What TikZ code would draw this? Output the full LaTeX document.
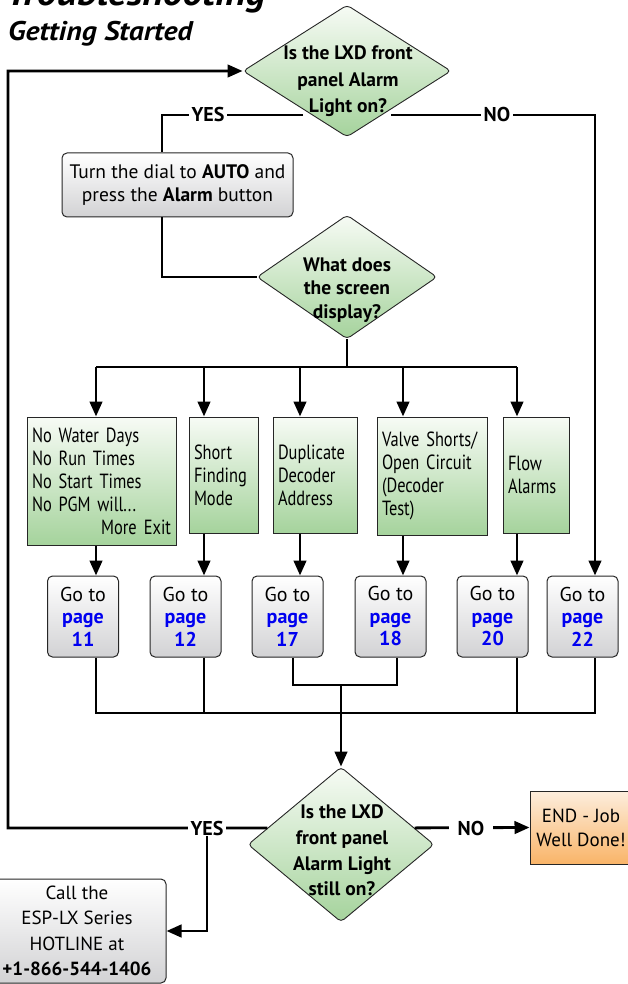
\documentclass[tikz,border=0pt]{standalone}
\usepackage{fontspec}
\setmainfont{PT Sans}
\newfontfamily\condf[FakeStretch=0.8]{PT Sans}
\newfontfamily\titf[FakeStretch=1.1]{PT Sans}
\protected\def\gfont{\condf\fontsize{20.5}{23}\selectfont\spaceskip=3.6pt plus 1pt minus 0.5pt\relax}
\usetikzlibrary{shapes.geometric,arrows.meta,calc}
\definecolor{gtop}{HTML}{F7FBF5}
\definecolor{gbot}{HTML}{A5D39C}
\definecolor{graytop}{HTML}{FFFFFF}
\definecolor{graybot}{HTML}{D2D2D4}
\definecolor{otop}{HTML}{FDEEDD}
\definecolor{obot}{HTML}{F9B468}
\definecolor{pblue}{HTML}{0000F0}
\definecolor{edge}{HTML}{262626}
\begin{document}
\begin{tikzpicture}[x=1pt,y=-1pt,
  conn/.style={line width=2.8pt,black},
  arr/.style={conn,-{Triangle[length=15pt,width=12.5pt]}},
  dia/.style={diamond,draw=edge,line width=0.9pt,rounded corners=4pt,top color=gtop,bottom color=gbot,inner sep=0pt},
  diatext/.style={align=center},
  gbox/.style={rectangle,draw=edge,line width=1pt,top color=gtop,bottom color=gbot,inner xsep=5pt,inner ysep=0pt,align=left,font=\gfont},
  grbox/.style={rectangle,rounded corners=5pt,draw=edge,line width=1pt,top color=graytop,bottom color=graybot,inner sep=0pt,align=center,font=\fontsize{19.5}{22.5}\selectfont},
  gobox/.style={grbox,minimum width=71pt,minimum height=81pt,font=\fontsize{20}{22.5}\selectfont},
  obox/.style={rectangle,draw=edge,line width=1pt,top color=otop,bottom color=obot,inner sep=0pt,align=center,font=\fontsize{19}{24}\selectfont},
  lbl/.style={fill=white,inner xsep=3pt,inner ysep=1pt,font=\bfseries\fontsize{20}{20}\selectfont}
]
\useasboundingbox (0,0) rectangle (627,984);

% titles
\node[anchor=base west,inner sep=0pt,font=\titf\bfseries\itshape\fontsize{36}{36}\selectfont] (title) at (6,6) {Troubleshooting};
\node[anchor=base west,inner sep=0pt,font=\titf\bfseries\itshape\fontsize{27}{27}\selectfont] (sub) at (8,41) {Getting Started};

% diamonds
\node[dia,minimum width=208pt,minimum height=132pt] (d1) at (347,71) {};
\node[dia,minimum width=180pt,minimum height=124pt] (d2) at (347,277) {};
\node[dia,minimum width=186pt,minimum height=155pt] (d3) at (341,844.5) {};

% action box
\node[grbox,minimum width=231pt,minimum height=64pt] (turn) at (177.5,185) {Turn the dial to \textbf{AUTO} and\\press the \textbf{Alarm} button};

% green boxes
\node[gbox,text width=139pt,minimum height=128pt] (b1) at (101.5,481) {No Water Days\\No Run Times\\No Start Times\\No PGM will...\\\hspace*{\fill}More\hspace{7pt}Exit};
\node[gbox,text width=59pt,minimum height=116pt] (b2) at (223.5,475) {Short\\Finding\\Mode};
\node[gbox,text width=74pt,minimum height=116pt] (b3) at (315,475) {Duplicate\\Decoder\\Address};
\node[gbox,text width=100pt,minimum height=118pt] (b4) at (432,476) {Valve Shorts/\\Open Circuit\\(Decoder\\Test)};
\node[gbox,text width=56pt,minimum height=116pt] (b5) at (536,475) {Flow\\Alarms};

% go-to boxes
\node[gobox] (g11) at (83,616.5) {Go to\\\textcolor{pblue}{\bfseries page}\\\textcolor{pblue}{\bfseries 11}};
\node[gobox] (g12) at (185.5,616.5) {Go to\\\textcolor{pblue}{\bfseries page}\\\textcolor{pblue}{\bfseries 12}};
\node[gobox] (g17) at (287.5,616.5) {Go to\\\textcolor{pblue}{\bfseries page}\\\textcolor{pblue}{\bfseries 17}};
\node[gobox] (g18) at (390.5,616.5) {Go to\\\textcolor{pblue}{\bfseries page}\\\textcolor{pblue}{\bfseries 18}};
\node[gobox] (g20) at (492.5,616.5) {Go to\\\textcolor{pblue}{\bfseries page}\\\textcolor{pblue}{\bfseries 20}};
\node[gobox] (g22) at (582.5,616.5) {Go to\\\textcolor{pblue}{\bfseries page}\\\textcolor{pblue}{\bfseries 22}};

% end and hotline
\node[obox,minimum width=102pt,minimum height=73pt] (end) at (581,827.5) {END - Job\\Well Done!};
\node[grbox,minimum width=178pt,minimum height=104pt,font=\fontsize{19}{25.3}\selectfont] (hot) at (77,931) {Call the\\ESP-LX Series\\HOTLINE at\\\textbf{+1-866-544-1406}};

% diamond texts
\node[diatext,font=\bfseries\fontsize{19.5}{26.5}\selectfont] (t1) at (348,81.5) {Is the LXD front\\panel Alarm\\Light on?};
\node[diatext,font=\bfseries\fontsize{19.5}{23.5}\selectfont] (t2) at (347,290) {What does\\the screen\\display?};
\node[diatext,font=\bfseries\fontsize{19.5}{25.7}\selectfont] (t3) at (342,850.5) {Is the LXD\\front panel\\Alarm Light\\still on?};

% coordinates
\coordinate (yesA) at (303,115);
\coordinate (noA) at (391,115);
\coordinate (ya) at (162,115);
\coordinate (nr) at (595,115);
\coordinate (bus) at (347,367);
\coordinate (c1) at (96,367);
\coordinate (c2) at (204,367);
\coordinate (c3) at (300,367);
\coordinate (c4) at (403,367);
\coordinate (c5) at (517,367);
\coordinate (k1) at (96,713);
\coordinate (k2) at (204,713);
\coordinate (k5) at (517,713);
\coordinate (k6) at (595,713);
\coordinate (m3) at (293,685);
\coordinate (m4) at (397,685);
\coordinate (mj) at (341,685);
\coordinate (y3) at ($(d3.west)!0.213!(d3.north)$);
\coordinate (n3) at ($(d3.east)!0.213!(d3.north)$);
\coordinate (lc) at (8,828);
\coordinate (yj) at (207,828);

% connectors
\draw[arr] (y3) -- (lc) |- (d1.west);
\draw[conn] (yesA) -- (ya) -- (ya |- turn.north);
\draw[arr] (noA) -- (nr) -- (nr |- g22.north);
\draw[conn] (turn.south -| ya) |- (d2.west);
\draw[conn] (d2.south) -- (bus);
\draw[conn] (c1) -- (c5);
\draw[arr] (c1) -- (c1 |- b1.north);
\draw[arr] (c2) -- (c2 |- b2.north);
\draw[arr] (c3) -- (c3 |- b3.north);
\draw[arr] (c4) -- (c4 |- b4.north);
\draw[arr] (c5) -- (c5 |- b5.north);
\draw[arr] (b1.south -| c1) -- (c1 |- g11.north);
\draw[arr] (b2.south -| c2) -- (c2 |- g12.north);
\draw[arr] (b3.south -| c3) -- (c3 |- g17.north);
\draw[arr] (b4.south -| c4) -- (c4 |- g18.north);
\draw[arr] (b5.south -| c5) -- (c5 |- g20.north);
\draw[conn] (g11.south -| k1) -- (k1) -- (k6) -- (g22.south -| k6);
\draw[conn] (g12.south -| k2) -- (k2);
\draw[conn] (g20.south -| k5) -- (k5);
\draw[conn] (g17.south -| m3) -- (m3) -- (m4) -- (g18.south -| m4);
\draw[arr] (mj) -- (d3.north);
\draw[arr] (n3) -- (end.west);
\draw[arr] (yj) |- (hot.east);

% labels
\node[lbl] (yes1) at (208,115) {YES};
\node[lbl] (no1) at (497,115) {NO};
\node[lbl] (yes2) at (207,828) {YES};
\node[lbl,inner xsep=9pt] (no2) at (471,828) {NO};
\end{tikzpicture}
\end{document}
